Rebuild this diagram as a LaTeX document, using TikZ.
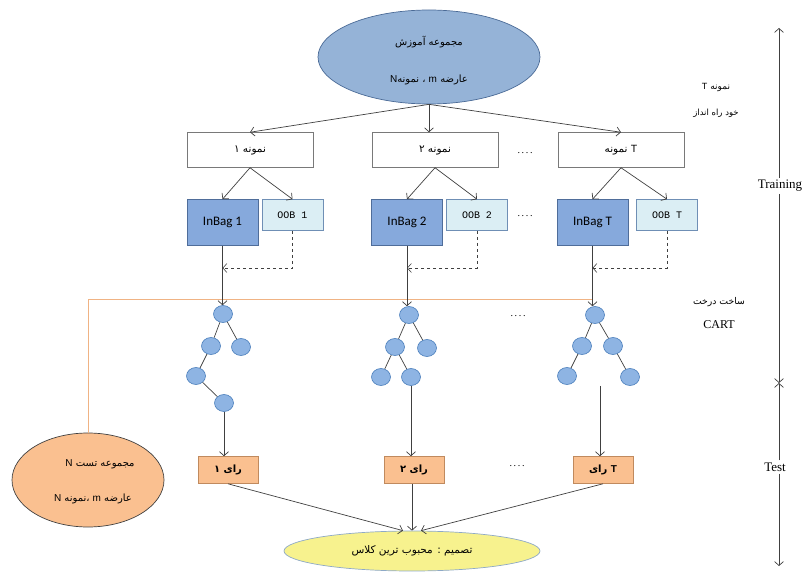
\documentclass[tikz,border=0pt]{standalone}
\usepackage{fontspec}
\setmainfont{Liberation Serif}
\newfontfamily\fa[Script=Arabic]{DejaVu Sans}
\newfontfamily\lat{Liberation Sans}
\newfontfamily\calib{Carlito}
\newfontfamily\couri{Liberation Mono}
\TeXXeTstate=1
\usetikzlibrary{arrows.meta,shapes.geometric}
\definecolor{topblue}{HTML}{95B3D7}
\definecolor{topborder}{HTML}{4A6A96}
\definecolor{inbagfill}{HTML}{86A9DC}
\definecolor{inbagborder}{HTML}{4F6D9A}
\definecolor{oobfill}{HTML}{DBEEF4}
\definecolor{oobborder}{HTML}{6F8FB5}
\definecolor{treefill}{HTML}{8EB4E3}
\definecolor{treeborder}{HTML}{4A7EBB}
\definecolor{orfill}{HTML}{FAC090}
\definecolor{orborder}{HTML}{C08A5E}
\definecolor{yelfill}{HTML}{F7F28E}
\definecolor{yelborder}{HTML}{8EA9C7}
\definecolor{orline}{HTML}{F0B384}
\definecolor{linegray}{HTML}{404040}
\tikzset{
  arr/.style={-{Straight Barb[length=4pt,width=9pt]}, draw=linegray, line width=0.7pt},
  edge/.style={draw=linegray, line width=0.7pt},
  fatxt/.style={font=\fa\fontsize{10}{12}\selectfont, inner sep=1pt},
  ell/.style={ellipse, draw, line width=0.7pt, inner sep=0pt},
  samplebox/.style={rectangle, draw=linegray!70, line width=0.5pt, fill=white, minimum width=126, minimum height=35, font=\fa\fontsize{10.5}{12}\selectfont},
  inbag/.style={rectangle, draw=inbagborder, line width=0.6pt, fill=inbagfill, minimum width=71, minimum height=46, font=\calib\fontsize{13}{14}\selectfont},
  oob/.style={rectangle, draw=oobborder, line width=0.6pt, fill=oobfill, minimum width=61, minimum height=31, font=\couri\fontsize{10}{11}\selectfont},
  tn/.style={ellipse, draw=treeborder, line width=0.6pt, fill=treefill, minimum width=19, minimum height=17, inner sep=0pt},
  vote/.style={rectangle, draw=orborder, line width=0.6pt, fill=orfill, minimum width=60, minimum height=27, font=\fa\bfseries\fontsize{10}{11}\selectfont},
  dots/.style={font=\fontsize{10}{10}\selectfont, inner sep=0pt},
  axlabel/.style={font=\fontsize{13}{14}\selectfont, inner sep=2pt}
}
\begin{document}
\begin{tikzpicture}[x=1pt,y=-1pt]
\useasboundingbox (0,0) rectangle (807,572);
% top ellipse
\node[ell, draw=topborder, fill=topblue, minimum width=222, minimum height=94] (train) at (429,57) {};
\node[fatxt] (trainA) at (429,42) {\beginR مجموعه آموزش\endR};
\node[fatxt] (trainB) at (429,80) {\beginR عارضه {\lat m} ، \hbox{نمونه}\hbox{\lat N}\endR};
% right side texts
\node[fatxt, font=\fa\fontsize{9}{10}\selectfont] (bootA) at (716,88) {\beginR نمونه {\lat T}\endR};
\node[fatxt, font=\fa\fontsize{8.5}{10}\selectfont] (bootB) at (716,113) {\beginR خود راه انداز\endR};
\node[fatxt, font=\fa\fontsize{9.3}{10}\selectfont] (cartA) at (719,302) {\beginR ساخت درخت\endR};
\node[axlabel, font=\fontsize{12}{13}\selectfont] (cartB) at (719,325) {CART};
% samples
\node[samplebox] (s1) at (250,150) {\beginR نمونه ۱\endR};
\node[samplebox] (s2) at (435,150) {\beginR نمونه ۲\endR};
\node[samplebox] (s3) at (621,150) {\beginR {\lat T} نمونه\endR};
\draw[arr] (train.south) -- (s1.north);
\draw[arr] (train.south) -- (train.south |- s2.north);
\draw[arr] (train.south) -- (s3.north);
% inbag / oob
\node[inbag] (ib1) at (222.5,222.5) {InBag 1};
\node[oob] (o1) at (292.5,215) {OOB 1};
\node[inbag] (ib2) at (407,222.5) {InBag 2};
\node[oob] (o2) at (477,215) {OOB 2};
\node[inbag] (ib3) at (592.5,222.5) {InBag T};
\node[oob] (o3) at (667,215) {OOB T};
\foreach \s/\i/\o in {s1/ib1/o1, s2/ib2/o2, s3/ib3/o3}{
  \draw[arr] (\s.south) -- (\i.north);
  \draw[arr] (\s.south) -- (\o.north);
}
% dots
\node[dots] (d1) at (525,153) {.\,.\,.\,.};
\node[dots] (d2) at (525,216) {.\,.\,.\,.};
\node[dots] (d3) at (518,316) {.\,.\,.\,.};
\node[dots] (d4) at (517,466) {.\,.\,.\,.};
% test set ellipse and orange line
\node[ell, draw=linegray, fill=orfill, minimum width=152, minimum height=94] (tset) at (88,480) {};
\coordinate (orend) at (593,299);
\draw[orline, line width=0.7pt] (tset.north) |- (orend);
\node[fatxt] (tsetA) at (100,464) {\beginR مجموعه تست {\lat N}\endR};
\node[fatxt] (tsetB) at (93,499) {\beginR عارضه {\lat m} \hbox{،}\hbox{نمونه} {\lat N}\endR};
% trees
\node[tn] (r1) at (223,314) {};
\node[tn] (a1) at (211,346) {};
\node[tn] (b1) at (241,347) {};
\node[tn] (c1) at (196,376) {};
\node[tn] (e1) at (224,403) {};
\draw[edge] (r1) -- (a1); \draw[edge] (r1) -- (b1); \draw[edge] (a1) -- (c1); \draw[edge] (c1) -- (e1);
\node[tn] (r2) at (409,315) {};
\node[tn] (a2) at (395,347) {};
\node[tn] (b2) at (427,348) {};
\node[tn] (c2) at (381,377) {};
\node[tn] (e2) at (411,377) {};
\draw[edge] (r2) -- (a2); \draw[edge] (r2) -- (b2); \draw[edge] (a2) -- (c2); \draw[edge] (a2) -- (e2);
\node[tn] (r3) at (595,315) {};
\node[tn] (a3) at (582,346) {};
\node[tn] (b3) at (613,346) {};
\node[tn] (c3) at (567,376) {};
\node[tn] (e3) at (630,377) {};
\draw[edge] (r3) -- (a3); \draw[edge] (r3) -- (b3); \draw[edge] (a3) -- (c3); \draw[edge] (b3) -- (e3);
% inbag -> tree, oob dashed
\draw[arr] (ib1.south) -- (ib1.south |- r1.north);
\draw[arr] (ib2.south) -- (ib2.south |- r2.north);
\draw[arr] (ib3.south) -- (ib3.south |- r3.north);
\coordinate (j1) at (222.5,268);
\coordinate (j2) at (407,268);
\coordinate (j3) at (592.5,268);
\draw[arr, dashed, line width=0.6pt] (o1.south) |- (j1);
\draw[arr, dashed, line width=0.6pt] (o2.south) |- (j2);
\draw[arr, dashed, line width=0.6pt] (o3.south) |- (j3);
% votes
\node[vote] (v1) at (228,470) {\beginR رای ۱\endR};
\node[vote] (v2) at (414,470) {\beginR رای ۲\endR};
\node[vote] (v3) at (603,470) {\beginR {\lat\bfseries T} رای\endR};
\coordinate (t3) at (600,386);
\draw[arr] (e1.south) -- (e1.south |- v1.north);
\draw[arr] (e2.south) -- (e2.south |- v2.north);
\draw[arr] (t3) -- (t3 |- v3.north);
% decision
\node[ell, draw=yelborder, fill=yelfill, minimum width=256, minimum height=40] (dec) at (412,551) {};
\node[fatxt, font=\fa\fontsize{10.5}{12}\selectfont] (decT) at (412,551) {\beginR تصمیم : محبوب ترین کلاس\endR};
\draw[arr] (v1.south) -- ([xshift=-9pt]dec.north);
\draw[arr] (v2.south -| dec.north) -- (dec.north);
\draw[arr] (v3.south) -- ([xshift=9pt]dec.north);
% right axis
\node[axlabel] (training) at (780,186) {Training};
\node[axlabel] (test) at (775,467) {Test};
\coordinate (axtop) at (779,28);
\coordinate (axmid) at (779,383);
\coordinate (axbot) at (779,566);
\draw[arr] (training.north -| axtop) -- (axtop);
\draw[arr] (training.south -| axtop) -- (axmid);
\draw[arr] (test.north -| axtop) -- (axmid);
\draw[arr] (test.south -| axtop) -- (axbot);
\end{tikzpicture}
\end{document}
